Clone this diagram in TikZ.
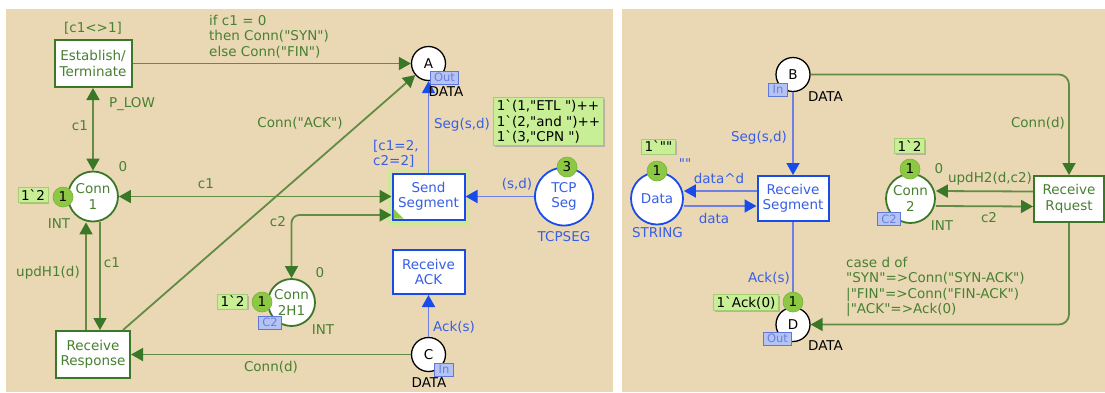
\documentclass[tikz,border=0pt]{standalone}
\usepackage{fontspec}
\setmainfont{DejaVu Sans}[Ligatures=TeXOff]
\usetikzlibrary{arrows.meta,shadows,calc}

\definecolor{bg}{RGB}{234,216,181}
\definecolor{gdark}{RGB}{58,120,40}
\definecolor{gline}{RGB}{98,140,68}
\definecolor{gtext}{RGB}{72,128,50}
\definecolor{bdark}{RGB}{25,75,235}
\definecolor{bline}{RGB}{110,128,228}
\definecolor{btext}{RGB}{55,95,230}
\definecolor{tokfill}{RGB}{140,200,68}
\definecolor{tokdraw}{RGB}{120,178,55}
\definecolor{markfill}{RGB}{200,238,150}
\definecolor{markdraw}{RGB}{165,205,115}
\definecolor{tagfill}{RGB}{180,195,242}
\definecolor{tagdraw}{RGB}{95,118,220}
\definecolor{tagtext}{RGB}{105,128,225}
\definecolor{glowcol}{RGB}{205,232,150}

\tikzset{
  gtip/.tip={Triangle[length=12pt,width=13pt,color=gdark]},
  btip/.tip={Triangle[length=12pt,width=13pt,color=bdark]},
  garc/.style={draw=gline, line width=1.8pt, -{gtip}},
  garcboth/.style={draw=gline, line width=1.8pt, {gtip}-{gtip}},
  barc/.style={draw=bline, line width=1.8pt, -{btip}},
  trans/.style={rectangle, fill=white, line width=2pt, inner sep=0pt, align=center},
  gtrans/.style={trans, draw=gdark, text=gtext},
  btrans/.style={trans, draw=bdark, text=btext},
  place/.style={circle, fill=white, inner sep=0pt, align=center},
  port/.style={place, draw=black, line width=1.3pt, minimum size=34pt},
  gplace/.style={place, draw=gdark, line width=1.8pt, text=gtext},
  bplace/.style={place, draw=bdark, line width=1.8pt, text=btext},
  tok/.style={circle, fill=tokfill, draw=tokdraw, line width=0.6pt, minimum size=20pt, inner sep=0pt, text=black},
  marking/.style={fill=markfill, draw=markdraw, line width=0.8pt, inner xsep=3pt, inner ysep=2pt, align=left, text=black,
    drop shadow={shadow xshift=1.5pt, shadow yshift=-1.5pt, fill=black!40, opacity=0.6}},
  porttag/.style={fill=tagfill, draw=tagdraw, line width=1pt, text=tagtext, font=\fontsize{11.5}{13}\selectfont,
    inner xsep=4pt, inner ysep=1pt, minimum height=13pt},
  glab/.style={text=gtext, inner sep=0pt},
  blab/.style={text=btext, inner sep=0pt},
  klab/.style={text=black, inner sep=0pt},
}

\begin{document}
\begin{tikzpicture}[x=1pt, y=-1pt, font=\fontsize{13.5}{15.5}\selectfont]
\useasboundingbox (0,0) rectangle (1105,392);
\fill[white] (0,0) rectangle (1105,392);
\fill[bg] (6,9) rectangle (613,392);
\fill[bg] (622,9) rectangle (1105,392);

% ---------- transitions ----------
\node[gtrans, minimum width=77pt, minimum height=47pt] (et) at (93,63.5) {Establish/\\Terminate};
\node[gtrans, minimum width=74pt, minimum height=47pt] (rr) at (93,354.5) {Receive\\Response};
\node[btrans, minimum width=72pt, minimum height=46pt] (ss) at (428.5,196.5) {Send\\Segment};
\node[btrans, minimum width=72pt, minimum height=44pt] (ra) at (428.5,272) {Receive\\ACK};
\node[btrans, minimum width=71pt, minimum height=45pt] (rs) at (793,198.5) {Receive\\Segment};
\node[gtrans, minimum width=70pt, minimum height=46pt] (rq) at (1069,199) {Receive\\Rquest};

% ---------- places ----------
\node[port] (A) at (428.5,63.5) {A};
\node[port] (C) at (428.5,354.5) {C};
\node[port] (B) at (793,74.5) {B};
\node[port] (D) at (793,324.5) {D};
\node[gplace, minimum size=50pt] (c1) at (93,196.5) {Conn\\1};
\node[gplace, minimum size=47pt] (c2h1) at (291.5,302.5) {Conn\\2H1};
\node[bplace, minimum size=58pt] (tcp) at (564,196.5) {TCP\\Seg};
\node[bplace, minimum size=52pt] (data) at (657,198.5) {Data};
\node[gplace, minimum size=49pt] (c2) at (910.5,198.5) {Conn\\2};

% enabled highlight of Send Segment
\draw[glowcol, line width=3pt] ([shift={(-2.5,2.5)}]ss.south west) rectangle ([shift={(2.5,-2.5)}]ss.north east);
\fill[tokfill] ([shift={(2,-2)}]ss.south west) -- ++(10,0) -- ++(-10,-10) -- cycle;

% ---------- arcs, left page ----------
\draw[garc] (et) -- (A);
\draw[garcboth] (et) -- (c1);
\draw[garcboth] (c1) -- (ss);
\coordinate (ssc2) at ([yshift=-18.5pt]ss.west);
\draw[garcboth, rounded corners=8pt] (c2h1) |- (ssc2);
\draw[garc] ([xshift=-7pt]rr.north) -- ([xshift=-7pt]c1.south);
\draw[garc] ([xshift=7pt]c1.south) -- ([xshift=7pt]rr.north);
\coordinate (rrout) at ([xshift=-8pt]rr.north east);
\draw[garc] (rrout) -- (A);
\draw[garc] (C) -- (rr);
\draw[barc] (ss) -- (A);
\draw[barc] (tcp) -- (ss);
\draw[barc] (C) -- (ra);

% ---------- arcs, right page ----------
\draw[barc] (B) -- (rs);
\draw[barc] ([yshift=7.5pt]rs.west) -- ([yshift=7.5pt]data.east);
\draw[barc] ([yshift=-7.5pt]data.east) -- ([yshift=-7.5pt]rs.west);
\draw[barc] (rs) -- (D);
\draw[garc, rounded corners=10pt] (B) -| (rq);
\draw[garc] ([yshift=7.5pt]rq.west) -- ([yshift=7.5pt]c2.east);
\draw[garc] ([yshift=-7.5pt]c2.east) -- ([yshift=-7.5pt]rq.west);
\draw[garc, rounded corners=10pt] (rq) |- (D);

% ---------- inscriptions, left page ----------
\node[glab] (g1) at (93,28) {[c1<>1]};
\node[glab, align=left, anchor=north west] (e1) at (209,15) {if c1 = 0\\then Conn("SYN")\\else Conn("FIN")};
\node[glab] (pr) at (132,104) {P\_LOW};
\node[glab] (e2) at (80,126) {c1};
\node[glab] (e3) at (206,184) {c1};
\node[glab] (e4) at (278,222) {c2};
\node[glab] (e5) at (300,123) {Conn("ACK")};
\node[glab] (e6) at (48,273) {updH1(d)};
\node[glab] (e7) at (112,263) {c1};
\node[glab] (e8) at (271,367) {Conn(d)};
\node[glab] (i1) at (123,167) {0};
\node[glab] (s1) at (59,224) {INT};
\node[glab] (i2) at (320,273) {0};
\node[glab] (s2) at (323,330) {INT};
\node[blab] (e9) at (462,125) {Seg(s,d)};
\node[blab, align=left, anchor=west] (g2) at (373,154) {[c1=2,\\c2=2]};
\node[blab] (e10) at (517,184) {(s,d)};
\node[blab] (s3) at (564,237) {TCPSEG};
\node[blab] (e11) at (454,327) {Ack(s)};
\node[klab] (sA) at (446,92) {DATA};
\node[klab] (sC) at (429,383) {DATA};

% ---------- inscriptions, right page ----------
\node[klab] (sB) at (825.5,97) {DATA};
\node[klab] (sD) at (825.5,346) {DATA};
\node[blab] (e12) at (759,138) {Seg(s,d)};
\node[blab] (e13) at (719,178) {data\textasciicircum d};
\node[blab] (e14) at (714,218) {data};
\node[blab] (s4) at (657.5,233) {STRING};
\node[blab] (i3) at (685,164) {""};
\node[blab, anchor=east] (e15) at (790,278) {Ack(s)};
\node[glab] (e16) at (1038,123) {Conn(d)};
\node[glab] (e17) at (990,179) {updH2(d,c2)};
\node[glab] (e18) at (989,218) {c2};
\node[glab] (i4) at (939,169) {0};
\node[glab] (s5) at (942,226) {INT};
\node[glab, align=left, anchor=north west] (e19) at (846,257)
  {case d of\\"SYN"=>Conn("SYN-ACK")\\|"FIN"=>Conn("FIN-ACK")\\|"ACK"=>Ack(0)};

% ---------- port and fusion tags ----------
\node[porttag] (pA) at (444.5,77.5) {Out};
\node[porttag] (pC) at (444,369.5) {In};
\node[porttag] (pB) at (778,89.5) {In};
\node[porttag] (pD) at (777.5,338.5) {Out};
\node[porttag] (f1) at (270,322.5) {C2};
\node[porttag] (f2) at (889,219) {C2};

% ---------- current markings ----------
\node[marking] (m1) at (33,195) {1`2};
\node[marking] (m2) at (232.5,301.5) {1`2};
\node[marking] (m3) at (548.5,121.5) {1`(1,"ETL ")++\\1`(2,"and ")++\\1`(3,"CPN ")};
\node[marking] (m4) at (658.5,146.5) {1`""};
\node[marking] (m5) at (909.5,146) {1`2};
\node[marking] (m6) at (746,302.5) {1`Ack(0)};

\node[tok] (k1) at (63,197) {1};
\node[tok] (k2) at (262,302) {1};
\node[tok] (k3) at (567,167) {3};
\node[tok] (k4) at (657,171) {1};
\node[tok] (k5) at (910,169) {1};
\node[tok] (k6) at (793,302) {1};
\end{tikzpicture}
\end{document}
